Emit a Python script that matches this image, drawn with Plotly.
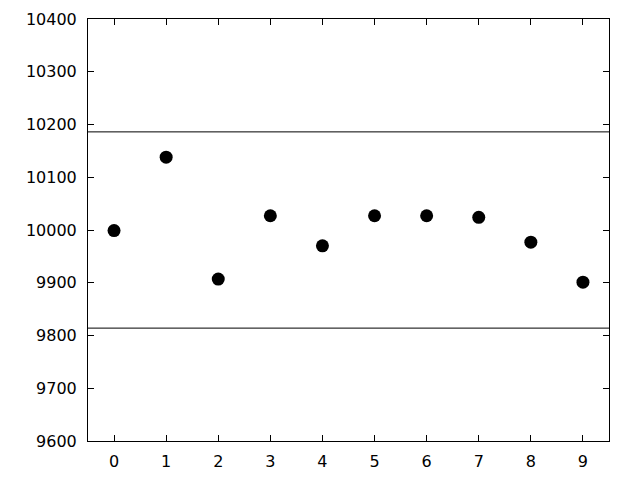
import plotly.graph_objects as go

x_vals = [0, 1, 2, 3, 4, 5, 6, 7, 8, 9]
y_vals = [9999, 10138, 9907, 10027, 9970, 10027, 10027, 10024, 9977, 9901]
upper_limit = 10186
lower_limit = 9814
y_ticks = [9600, 9700, 9800, 9900, 10000, 10100, 10200, 10300, 10400]

fig = go.Figure()
fig.add_trace(go.Scatter(x=x_vals, y=y_vals, mode="markers",
                         marker=dict(color="black", size=13, line=dict(width=0)),
                         showlegend=False))
fig.add_hline(y=upper_limit, line=dict(color="black", width=1))
fig.add_hline(y=lower_limit, line=dict(color="black", width=1))

axis_common = dict(showline=True, linecolor="black", linewidth=1, mirror="ticks",
                   ticks="inside", ticklen=6, tickcolor="black", tickwidth=1,
                   showgrid=False, zeroline=False,
                   tickfont=dict(family="DejaVu Sans", size=16, color="black"))
fig.update_xaxes(range=[-0.5, 9.5], tickvals=x_vals,
                 ticktext=[str(v) for v in x_vals], ticklabelstandoff=6, **axis_common)
fig.update_yaxes(range=[9600, 10400], tickvals=y_ticks,
                 ticktext=[str(v) for v in y_ticks], ticklabelstandoff=7, **axis_common)
fig.update_layout(width=640, height=480, plot_bgcolor="white", paper_bgcolor="white",
                  margin=dict(l=80, r=39, t=11, b=47, autoexpand=False))
fig.write_html("out.html")
